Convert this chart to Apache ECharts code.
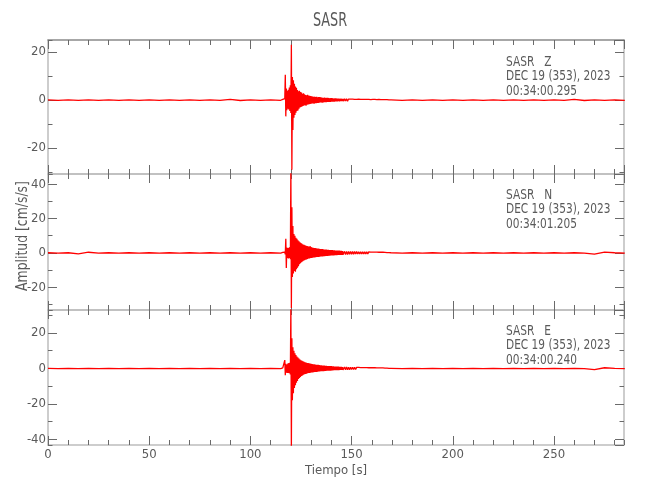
<!DOCTYPE html>
<html><head><meta charset="utf-8">
<script src="https://cdn.jsdelivr.net/npm/echarts@6/dist/echarts.min.js"></script>
<style>html,body{margin:0;padding:0;background:#fff}#c{width:650px;height:500px}</style>
</head><body><div id="c"></div>
<script>
// ---- sampling segments (start s, step s, count) ----
const segPre   = [0, 5, 24];
const segDense = [116, 0.25, 120];
const segCoda  = [146, 0.5, 48];
const segPost  = [170, 5, 24];

// ---- Z component (cm/s/s) ----
const zPre = [0.1,-0.1,0.1,-0.1,0.1,-0.1,0.1,-0.1,0.1,-0.1,0.1,-0.1,0.1,-0.1,0.1,-0.1,0.1,-0.1,0.3,-0.2,0.1,-0.1,0.1,-0.1];
const zDense = [0.3,-0.3,0.4,-0.4,0.6,10.5,-6.8,4.8,
 -4.2,3.9,-3.6,4.3,-3.9,5.2,-4.6,6.1,
 -5.4,23,-29,9.6,-12.5,8.2,-7.4,6.8,
 -6.2,5.6,-5.3,5.1,-4.6,4.2,-4.3,3.7,
 -3.6,3.9,-3.1,3.3,-2.9,3.1,-2.7,2.6,
 -2.5,2.8,-2.3,2.4,-2.2,2.1,-2.4,2.0,
 -1.9,2.2,-1.8,1.9,-1.7,1.8,-1.6,1.7,
 -1.5,1.6,-1.4,1.5,-1.4,1.3,-1.5,1.4,
 -1.3,1.2,-1.3,1.3,-1.2,1.1,-1.2,1.2,
 -1.1,1.2,-1.0,1.1,-1.0,1.0,-1.1,0.9,
 -1.0,0.9,-0.9,1.0,-0.9,0.8,-0.9,0.9,
 -0.8,0.9,-0.8,0.8,-0.8,0.7,-0.8,0.8,
 -0.7,0.8,-0.7,0.7,-0.7,0.6,-0.7,0.7,
 -0.6,0.7,-0.6,0.6,-0.6,0.6,-0.5,0.6,
 -0.6,0.5,-0.5,0.6,-0.5,0.5,-0.5,0.5];
const zCoda = [-0.5,0.5,-0.4,0.5,-0.5,0.4,-0.4,0.4,
 -0.4,0.4,-0.4,0.3,-0.4,0.3,-0.3,0.4,
 -0.3,0.3,-0.3,0.3,-0.3,0.3,-0.3,0.3,
 -0.3,0.3,-0.3,0.2,-0.3,0.3,-0.2,0.3,
 -0.3,0.2,-0.2,0.3,-0.2,0.2,-0.3,0.2,
 -0.2,0.2,-0.2,0.2,-0.1,0.1,-0.1,0.1];
const zPost = [0.1,-0.1,0.1,-0.1,0.1,-0.1,0.1,-0.1,0.1,-0.1,0.1,-0.1,0.1,-0.1,0.1,-0.1,0.1,-0.1,0.3,-0.2,0.1,-0.1,0.1,-0.1];

// ---- N component ----
const nPre = [0.1,-0.1,0.1,-0.5,0.4,-0.1,0.1,-0.1,0.1,-0.1,0.1,-0.1,0.1,-0.1,0.1,-0.1,0.1,-0.1,0.1,-0.1,0.1,-0.1,0.1,-0.1];
const nDense = [0.3,-0.3,0.3,-0.4,0.5,-0.8,8.2,-8.8,
 3.2,-3.0,2.8,-3.3,3.0,-2.9,3.4,-3.6,
 50,-32,26.5,-14,15.7,-12,11,-10.5,
 10,-11,8.8,-9.5,8.2,-8.6,7.4,-7.8,
 6.8,-6.6,6.2,-6.0,5.8,-5.4,5.3,-5.0,
 4.9,-4.6,4.8,-4.2,4.4,-4.0,4.1,-3.8,
 4.0,-3.5,3.8,-3.3,3.6,-3.2,4.0,-3.0,
 3.4,-2.9,3.2,-2.8,3.0,-2.7,2.9,-2.6,
 2.8,-2.5,2.7,-2.4,2.6,-2.3,2.5,-2.3,
 2.4,-2.2,2.3,-2.1,2.2,-2.0,2.2,-2.0,
 2.1,-1.9,2.0,-1.9,1.9,-1.8,1.9,-1.7,
 1.8,-1.7,1.8,-1.6,1.7,-1.6,1.7,-1.5,
 1.6,-1.5,1.6,-1.4,1.5,-1.4,1.5,-1.3,
 1.4,-1.3,1.4,-1.3,1.3,-1.2,1.3,-1.2,
 1.3,-1.1,1.2,-1.1,1.2,-1.1,1.1,-1.0];
const nCoda = [-1.0,0.9,-1.0,0.9,-0.9,0.9,-0.8,0.9,
 -0.8,0.8,-0.8,0.8,-0.7,0.8,-0.7,0.7,
 -0.7,0.7,-0.6,0.7,-0.6,0.6,-0.6,0.6,
 -0.6,0.6,-0.5,0.5,-0.5,0.5,-0.5,0.5,
 -0.4,0.5,-0.4,0.4,-0.4,0.4,-0.4,0.4,
 -0.3,0.3,-0.3,0.2,-0.2,0.2,-0.1,0.1];
const nPost = [0.1,-0.1,0.1,-0.1,0.1,-0.1,0.1,-0.1,0.1,-0.1,0.1,-0.1,0.1,-0.1,0.1,-0.1,0.1,-0.1,0.1,-0.1,-0.7,0.5,0.1,-0.1];

// ---- E component ----
const ePre = [0.1,-0.1,0.1,-0.1,0.1,-0.1,0.1,-0.1,0.1,-0.1,0.1,-0.1,0.1,-0.1,0.1,-0.1,0.1,-0.1,0.1,-0.1,0.1,-0.1,0.1,-0.1];
const eDense = [0.3,-0.3,0.3,-0.3,4.7,-3.8,2.6,-2.4,
 2.2,-2.5,2.8,-2.6,3.0,-2.7,3.2,-3.4,
 36,-45,17,-18,12,-14,10,-11,
 8.6,-9.5,7.6,-8.0,6.8,-7.0,6.2,-6.0,
 5.6,-5.4,5.0,-4.8,4.6,-4.3,4.3,-4.0,
 4.0,-3.6,3.8,-3.3,3.5,-3.1,3.3,-2.9,
 3.1,-2.7,3.0,-2.6,2.9,-2.5,2.8,-2.4,
 2.6,-2.2,2.5,-2.2,2.4,-2.1,2.3,-2.0,
 2.2,-1.9,2.1,-1.9,2.0,-1.8,2.0,-1.7,
 1.9,-1.7,1.8,-1.6,1.8,-1.6,1.7,-1.5,
 1.6,-1.5,1.6,-1.4,1.5,-1.4,1.5,-1.3,
 1.4,-1.3,1.4,-1.2,1.4,-1.2,1.3,-1.2,
 1.3,-1.1,1.2,-1.1,1.2,-1.0,1.1,-1.0,
 1.1,-1.0,1.0,-0.9,1.0,-0.9,1.0,-0.9,
 0.9,-0.8,0.9,-0.8,0.9,-0.8,0.8,-0.8];
const eCoda = [-0.8,0.8,-0.7,0.8,-0.7,0.7,-0.7,0.7,
 -0.6,0.7,-0.6,0.6,-0.6,0.6,-0.5,0.6,
 -0.5,0.5,-0.5,0.5,-0.5,0.5,-0.4,0.5,
 -0.4,0.4,-0.4,0.4,-0.4,0.4,-0.3,0.4,
 -0.3,0.3,-0.3,0.3,-0.3,0.3,-0.3,0.3,
 -0.3,0.2,-0.2,0.2,-0.2,0.1,-0.1,0.1];
const ePost = [0.1,-0.1,0.1,-0.1,0.1,-0.1,0.1,-0.1,0.1,-0.1,0.1,-0.1,0.1,-0.1,0.1,-0.1,0.1,-0.1,0.1,-0.1,-0.6,0.4,0.1,-0.1];

// ---- labels ----
const chartTitle = 'SASR';
const xTitle = 'Tiempo [s]';
const yTitle = 'Amplitud [cm/s/s]';
const panelLabels = [
  ['SASR   Z', 'DEC 19 (353), 2023', '00:34:00.295'],
  ['SASR   N', 'DEC 19 (353), 2023', '00:34:01.205'],
  ['SASR   E', 'DEC 19 (353), 2023', '00:34:00.240']
];
const xMax = 284.6;
const yRanges = [[-30.8, 25], [-33.2, 45.9], [-43.2, 33.0]];

function buildSeries(parts) {
  const segs = [segPre, segDense, segCoda, segPost];
  const out = [];
  parts.forEach((vals, k) => {
    const s = segs[k];
    for (let i = 0; i < Math.min(vals.length, s[2]); i++) {
      out.push([s[0] + i * s[1], vals[i]]);
    }
  });
  return out;
}
const seriesData = [
  buildSeries([zPre, zDense, zCoda, zPost]),
  buildSeries([nPre, nDense, nCoda, nPost]),
  buildSeries([ePre, eDense, eCoda, ePost])
];

const FONT = "'Liberation Sans Narrow','DejaVu Sans Condensed','Liberation Sans',sans-serif";
const TXT = '#5a5a5a';
const LINE = '#bdbdbd';
const TICK = '#6a6a6a';
const layout = [{top: 40, height: 134}, {top: 174, height: 136}, {top: 310, height: 135}];

const grids = [], xAxes = [], yAxes = [], series = [];
layout.forEach((L, g) => {
  grids.push({left: 48, width: 576, top: L.top, height: L.height});
  const last = g === 2;
  const xb = {gridIndex: g, type: 'value', min: 0, max: xMax, splitLine: {show: false}, animation: false};
  const tick = len => ({show: true, inside: true, length: len, lineStyle: {color: TICK, width: 1}});
  xAxes.push(Object.assign({}, xb, {position: 'bottom', interval: 50,
    axisLine: {show: true, onZero: false, lineStyle: {color: LINE, width: 1.5}},
    axisTick: tick(9),
    axisLabel: {show: last, showMaxLabel: false, margin: 3, color: TXT, fontSize: 13, fontFamily: FONT},
    name: last ? xTitle : '', nameLocation: 'middle', nameGap: 19,
    nameTextStyle: {color: TXT, fontSize: 13, fontFamily: FONT}}));
  xAxes.push(Object.assign({}, xb, {position: 'bottom', interval: 10,
    axisLine: {show: false, onZero: false}, axisTick: tick(5), axisLabel: {show: false}}));
  xAxes.push(Object.assign({}, xb, {position: 'top', interval: 50,
    axisLine: {show: true, onZero: false, lineStyle: {color: g === 0 ? '#8a8a8a' : LINE, width: 1.5}},
    axisTick: tick(9), axisLabel: {show: false}}));
  xAxes.push(Object.assign({}, xb, {position: 'top', interval: 10,
    axisLine: {show: false, onZero: false}, axisTick: tick(5), axisLabel: {show: false}}));

  const r = yRanges[g];
  const yb = {gridIndex: g, type: 'value', min: r[0], max: r[1], splitLine: {show: false}, animation: false};
  yAxes.push(Object.assign({}, yb, {position: 'left', minInterval: 20, maxInterval: 20,
    axisLine: {show: true, onZero: false, lineStyle: {color: LINE, width: 1.5}},
    axisTick: tick(9),
    axisLabel: {show: true, showMinLabel: false, showMaxLabel: false, margin: 2, color: TXT, fontSize: 13, fontFamily: FONT}}));
  yAxes.push(Object.assign({}, yb, {position: 'left', minInterval: 10, maxInterval: 10,
    axisLine: {show: false, onZero: false}, axisTick: tick(4.5), axisLabel: {show: false}}));
  yAxes.push(Object.assign({}, yb, {position: 'right', minInterval: 20, maxInterval: 20,
    axisLine: {show: true, onZero: false, lineStyle: {color: LINE, width: 1.5}},
    axisTick: tick(9), axisLabel: {show: false}}));
  yAxes.push(Object.assign({}, yb, {position: 'right', minInterval: 10, maxInterval: 10,
    axisLine: {show: false, onZero: false}, axisTick: tick(4.5), axisLabel: {show: false}}));

  series.push({type: 'line', name: panelLabels[g][0], xAxisIndex: 4 * g, yAxisIndex: 4 * g,
    data: seriesData[g], showSymbol: false, symbol: 'none', clip: true, silent: true,
    lineStyle: {color: '#ff0000', width: 1.3}, animation: false});
});

const graphics = [
  {type: 'text', x: 330, y: 21, scaleX: 0.75, style: {text: chartTitle, fill: TXT, font: "19px " + FONT, align: 'center', verticalAlign: 'middle'}},
  {type: 'text', x: 23, y: 236, rotation: Math.PI / 2, scaleX: 0.92, style: {text: yTitle, fill: TXT, font: "15px " + FONT, align: 'center', verticalAlign: 'middle'}}
];
const labelTops = [55, 188, 324];
panelLabels.forEach((lines, g) => {
  graphics.push({type: 'text', x: 506, y: labelTops[g], scaleX: 0.84,
    style: {text: lines.join('\n'), fill: TXT, font: "14px " + FONT, lineHeight: 14.5, align: 'left', verticalAlign: 'top'}});
});

const chart = echarts.init(document.getElementById('c'));
chart.setOption({
  animation: false,
  backgroundColor: '#ffffff',
  grid: grids, xAxis: xAxes, yAxis: yAxes, series: series,
  graphic: graphics
});
</script>
</body></html>
